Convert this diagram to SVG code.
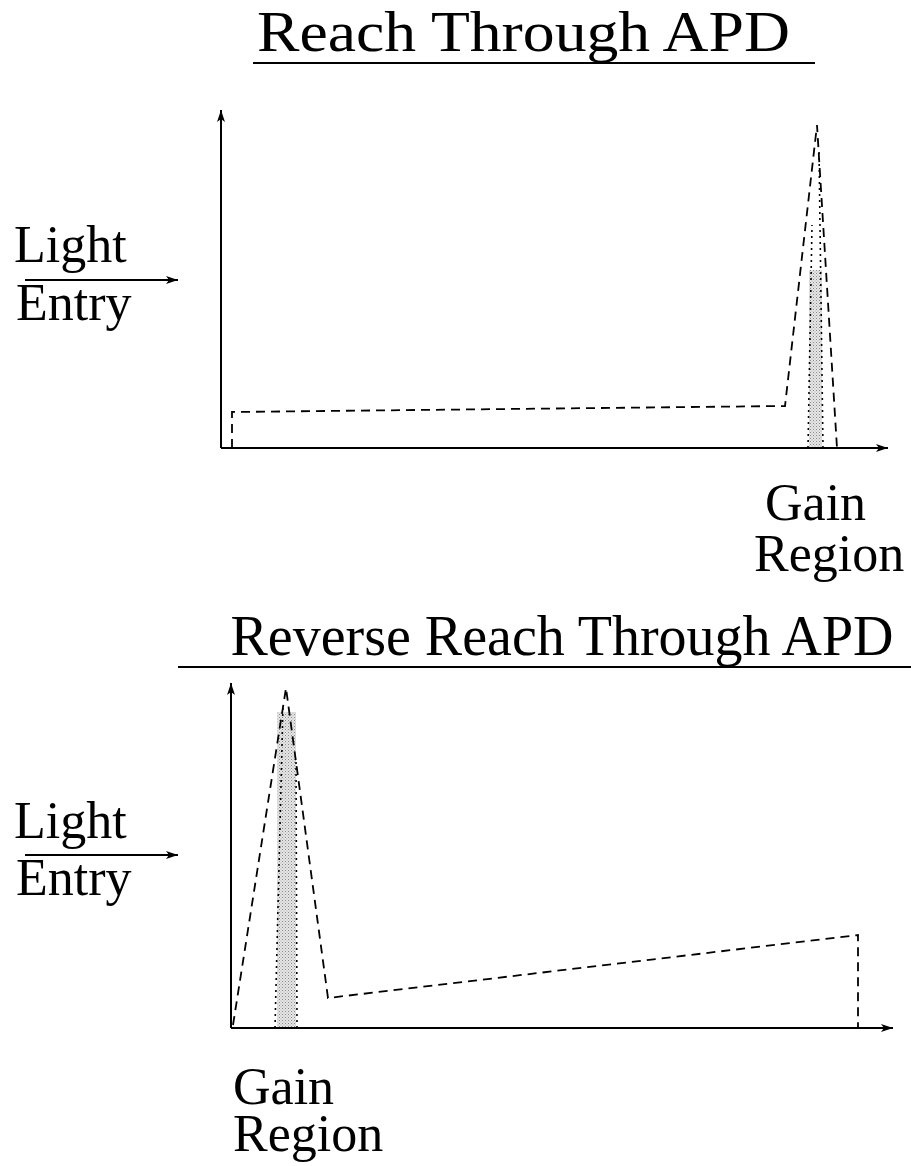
<svg xmlns="http://www.w3.org/2000/svg" width="911" height="1166" viewBox="0 0 911 1166">
<defs>
<marker id="ah" viewBox="0 0 12 8" refX="12" refY="4" markerWidth="12" markerHeight="8" markerUnits="userSpaceOnUse" orient="auto">
<path d="M0,0 L12,4 L0,8 L3,4 Z" fill="#000"/>
</marker>
<pattern id="stip" width="3" height="3" patternUnits="userSpaceOnUse">
<rect width="3" height="3" fill="#e6e6e6"/>
<rect x="0" y="0" width="1" height="1" fill="#8a8a8a"/>
<rect x="1.5" y="1.5" width="1" height="1" fill="#aaa"/>
</pattern>
<style>
.t{font-family:"Liberation Serif","Times New Roman",serif;fill:#000}
.ax{stroke:#000;stroke-width:2;fill:none}
.ds{stroke:#000;stroke-width:1.8;fill:none;stroke-dasharray:9 6}
.dt{stroke:#000;stroke-width:1.6;fill:none;stroke-dasharray:2 4}
</style>
</defs>

<g id="title-top">
<text class="t" x="257" y="51" font-size="58" textLength="533" lengthAdjust="spacingAndGlyphs">Reach Through APD</text>
<line x1="253" y1="63" x2="815" y2="63" stroke="#000" stroke-width="2"/>
</g>
<g id="light-top">
<text class="t" x="14" y="262" font-size="52">Light</text>
<text class="t" x="16" y="320" font-size="52">Entry</text>
</g>
<g id="gain-top">
<text class="t" x="765" y="520" font-size="52">Gain</text>
<text class="t" x="754" y="571" font-size="52">Region</text>
</g>
<g id="chart-top">
<rect x="809" y="270" width="13" height="178" fill="url(#stip)"/>
<polyline class="ds" points="232,448 232,412 785,406 817,125 837,448"/>
<line class="dt" x1="808" y1="448" x2="812" y2="225"/>
<line class="dt" x1="823" y1="448" x2="819" y2="150"/>
</g>

<g id="title-bottom">
<text class="t" x="562" y="655" font-size="56" text-anchor="middle">Reverse Reach Through APD</text>
<line x1="178" y1="667" x2="911" y2="667" stroke="#000" stroke-width="2"/>
</g>
<g id="light-bottom">
<text class="t" x="14" y="838" font-size="52">Light</text>
<text class="t" x="16" y="895" font-size="52">Entry</text>
</g>
<g id="gain-bottom">
<text class="t" x="233" y="1104" font-size="52">Gain</text>
<text class="t" x="233" y="1151" font-size="52">Region</text>
</g>
<g id="chart-bottom">
<rect x="277" y="712" width="19" height="316" fill="url(#stip)"/>
<polyline class="ds" points="233,1025 286,688 328,998 858,935 858,1028"/>
<line class="dt" x1="275" y1="1028" x2="283" y2="705"/>
<line class="dt" x1="297" y1="1028" x2="296" y2="760"/>
</g>

<g id="connectors">
<line class="ax" x1="221" y1="448" x2="221" y2="110" marker-end="url(#ah)"/>
<line class="ax" x1="221" y1="448" x2="888" y2="448" marker-end="url(#ah)"/>
<line class="ax" x1="25" y1="280" x2="178" y2="280" marker-end="url(#ah)"/>
<line class="ax" x1="231" y1="1028" x2="231" y2="683" marker-end="url(#ah)"/>
<line class="ax" x1="231" y1="1028" x2="893" y2="1028" marker-end="url(#ah)"/>
<line class="ax" x1="25" y1="855" x2="178" y2="855" marker-end="url(#ah)"/>
</g>
</svg>
